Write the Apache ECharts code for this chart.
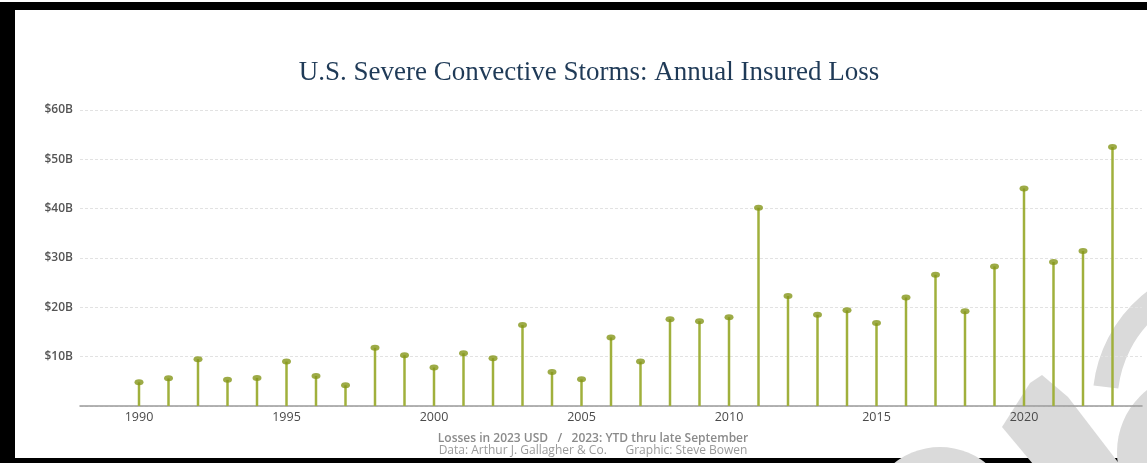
<!DOCTYPE html>
<html>
<head>
<meta charset="utf-8">
<script src="https://cdn.jsdelivr.net/npm/echarts@6/dist/echarts.min.js"></script>
<style>
  html, body { margin: 0; padding: 0; background: #fff; }
  #chart { width: 1147px; height: 463px; }
</style>
</head>
<body>
<div id="chart"></div>
<script>
// annual insured loss, billions of 2023 USD (2023 = YTD thru late Sept)
const years = [1990, 1991, 1992, 1993, 1994, 1995, 1996, 1997, 1998, 1999,
  2000, 2001, 2002, 2003, 2004, 2005, 2006, 2007, 2008, 2009,
  2010, 2011, 2012, 2013, 2014, 2015, 2016, 2017, 2018, 2019,
  2020, 2021, 2022, 2023]
const losses = [4.8, 5.6, 9.5, 5.3, 5.7, 9.0, 6.1, 4.2, 11.8, 10.3,
  7.8, 10.7, 9.7, 16.4, 6.9, 5.4, 13.9, 9.0, 17.6, 17.2,
  18.0, 40.2, 22.3, 18.5, 19.4, 16.8, 22.0, 26.6, 19.2, 28.3,
  44.1, 29.2, 31.4, 52.5]
const yTicks = [0, 10, 20, 30, 40, 50, 60]
const titleText = 'U.S. Severe Convective Storms: Annual Insured Loss'
const noteLine1 = 'Losses in 2023 USD   /   2023: YTD thru late September'
const noteLine2 = 'Data: Arthur J. Gallagher & Co.      Graphic: Steve Bowen'

const points = years.map((y, i) => [y, losses[i]])

const chart = echarts.init(document.getElementById('chart'))

const wm = '#dadada'

chart.setOption({
  animation: false,
  backgroundColor: '#fff',
  title: [{
    text: titleText,
    left: 584,
    top: 54,
    textAlign: 'center',
    textStyle: {
      fontFamily: 'Liberation Serif',
      fontWeight: 'normal',
      fontSize: 27,
      color: '#1f3a57'
    }
  }, {
    text: '{a|' + noteLine1 + '}\n{b|' + noteLine2 + '}',
    left: 588,
    top: 428,
    textAlign: 'center',
    z: 5,
    textStyle: {
      rich: {
        a: { fontFamily: 'Open Sans', fontWeight: 600, fontSize: 12, color: '#8a8a8a', lineHeight: 12 },
        b: { fontFamily: 'Open Sans', fontWeight: 'normal', fontSize: 12, color: '#9a9a9a', lineHeight: 12 }
      }
    }
  }],
  graphic: [
    // black frame
    { type: 'rect', z: 0, shape: { x: 0, y: 2, width: 1147, height: 8 }, style: { fill: '#000' } },
    { type: 'rect', z: 0, shape: { x: 0, y: 2, width: 15, height: 461 }, style: { fill: '#000' } },
    { type: 'rect', z: 0, shape: { x: 0, y: 458, width: 1147, height: 5 }, style: { fill: '#000' } },
    // faint watermark in the lower right
    { type: 'arc', z: 1, silent: true,
      shape: { cx: 1232, cy: 402, r: 127, startAngle: 3.26, endAngle: 4.75, clockwise: true },
      style: { stroke: wm, lineWidth: 25, fill: null } },
    { type: 'circle', z: 1, silent: true,
      shape: { cx: 1196, cy: 452, r: 79 }, style: { fill: wm } },
    { type: 'polygon', z: 1, silent: true,
      shape: { points: [[1002, 427], [1030, 383], [1042, 375], [1068, 397], [1124, 470], [1038, 470]] },
      style: { fill: wm } },
    { type: 'circle', z: 1, silent: true,
      shape: { cx: 940, cy: 520, r: 73 }, style: { fill: wm } }
  ],
  grid: {
    left: 80,
    right: 5,
    top: 110,
    bottom: 57,
    containLabel: false
  },
  xAxis: {
    type: 'value',
    min: 1988,
    max: 2024,
    interval: 1,
    z: 2,
    axisLine: { show: true, lineStyle: { color: '#9a9a9a', width: 1.5 } },
    axisTick: { show: false },
    splitLine: { show: false },
    axisLabel: {
      margin: 5,
      fontFamily: 'Open Sans',
      fontSize: 12.5,
      color: '#4a4a4a',
      formatter: v => (v % 5 === 0 ? String(v) : '')
    }
  },
  yAxis: {
    type: 'value',
    min: yTicks[0],
    max: yTicks[yTicks.length - 1],
    interval: 10,
    z: 2,
    axisLine: { show: false },
    axisTick: { show: false },
    axisLabel: {
      margin: 7,
      fontFamily: 'Open Sans',
      fontWeight: 600,
      fontSize: 12,
      color: '#555',
      formatter: v => (v === 0 ? '' : '$' + v + 'B')
    },
    splitLine: {
      show: true,
      lineStyle: { color: '#e2e2e2', type: [3, 2], width: 1 }
    }
  },
  series: [{
    type: 'bar',
    data: points,
    barWidth: 2.5,
    itemStyle: { color: '#a0b03c' },
    z: 3
  }, {
    type: 'scatter',
    data: points,
    symbol: 'circle',
    symbolSize: [9, 6],
    itemStyle: { color: '#849619' },
    z: 4
  }]
})
</script>
</body>
</html>
